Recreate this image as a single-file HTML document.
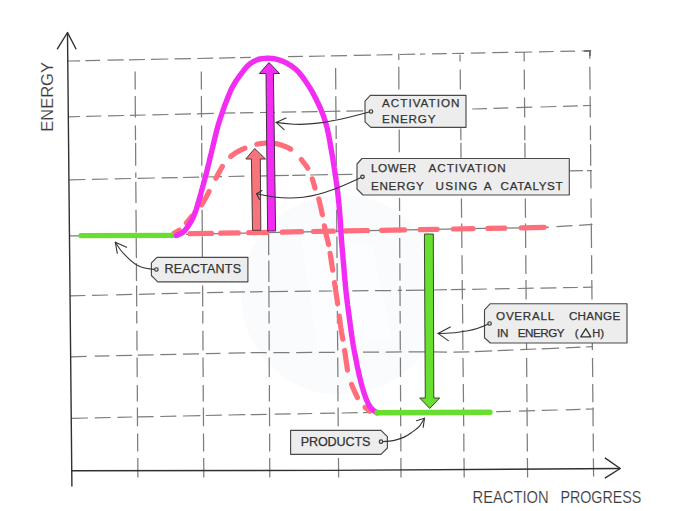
<!DOCTYPE html>
<html><head><meta charset="utf-8"><title>Energy profile</title>
<style>
html,body{margin:0;padding:0;background:#fff;}
body{width:673px;height:511px;overflow:hidden;font-family:"Liberation Sans",sans-serif;}
svg{display:block}
.gl{stroke:#7d7d7d;stroke-width:1.25;fill:none;}
.ax{stroke:#303030;stroke-width:1.4;fill:none;stroke-linecap:round;stroke-linejoin:round}
.lb{fill:#ededed;stroke:#4a4a4a;stroke-width:1.15;stroke-linejoin:round}
.ptr{stroke:#333;stroke-width:1.1;fill:none;stroke-linecap:round;stroke-linejoin:round}
.dot{fill:#e0e0e0;stroke:#3a3a3a;stroke-width:1.2}
.pk{fill:none;stroke:#ff6e7a;stroke-width:5.2;stroke-linecap:round;stroke-linejoin:round}
.mg{fill:none;stroke:#f32cf3;stroke-width:5.4;stroke-linecap:round;stroke-linejoin:round}
.gr{fill:none;stroke:#68df2f;stroke-width:5.4;stroke-linecap:round}
text{font-family:"Liberation Sans",sans-serif;fill:#333;}
.t12{font-size:11.7px;stroke:#333;stroke-width:0.25px}
.t16{font-size:16.5px;fill:#3a3a3a;stroke:#fff;stroke-width:0.15px}
</style></head>
<body>
<svg width="673" height="511" viewBox="0 0 673 511">
<rect width="673" height="511" fill="#ffffff"/>
<circle cx="341" cy="295" r="100" fill="#fafbfc"/>
<path d="M300 232 L372 246 L392 338 L318 352 Z" fill="#fcfdfe"/>
<!-- grid -->
<path d="M68.0 61.0 L80.1 60.8 M85.4 60.7 L100.1 60.4 M107.6 60.2 L123.7 59.9 M129.0 59.8 L145.0 59.5 M150.9 59.4 L168.3 59.0 M174.5 58.9 L191.0 58.6 M197.2 58.5 L213.2 58.2 M219.1 58.1 L235.2 57.7 M240.0 57.6 L250.7 57.4 M257.0 57.3 L272.0 57.0 M288.1 56.7 L302.9 56.4 M309.0 56.3 L325.0 56.0 M330.9 55.9 L347.0 55.6 M353.7 55.4 L371.0 55.1 M376.4 55.0 L392.4 54.7 M399.9 54.5 L415.2 54.2 M420.0 54.1 L425.3 54.0 M432.0 53.9 L446.7 53.6 M452.1 53.5 L464.1 53.3 M470.8 53.2 L485.5 52.9 M492.2 52.7 L508.3 52.4 M514.9 52.3 L532.3 52.0 M539.0 51.8 L553.7 51.5 M560.4 51.4 L575.1 51.1 M581.8 51.0 L591.2 50.8" class="gl"/>
<path d="M68.5 116.8 L80.1 116.5 M86.2 116.4 L101.5 116.0 M108.1 115.9 L124.2 115.5 M130.1 115.4 L145.6 115.0 M152.3 114.8 L168.3 114.5 M175.0 114.3 L191.0 113.9 M196.9 113.8 L213.8 113.4 M220.5 113.2 L235.2 112.9 M240.0 112.8 L253.4 112.6 M260.0 112.5 L275.0 112.3 M281.5 112.2 L296.2 111.9 M301.5 111.8 L317.6 111.6 M324.2 111.5 L340.3 111.2 M346.4 111.1 L363.0 110.8 M472.2 109.0 L486.9 108.6 M493.5 108.4 L508.3 107.9 M516.3 107.7 L532.3 107.2 M540.4 107.0 L556.4 106.5 M563.1 106.3 L577.8 105.9 M583.1 105.7 L591.2 105.5" class="gl"/>
<path d="M69.2 179.8 L85.4 179.5 M92.1 179.3 L108.1 179.0 M114.8 178.9 L130.9 178.5 M137.6 178.4 L154.9 178.0 M161.6 177.9 L177.7 177.6 M183.0 177.5 L199.1 177.1 M205.8 177.0 L222.0 176.7 M228.5 176.5 L244.5 176.2 M251.0 176.1 L267.0 175.8 M273.4 175.7 L288.9 175.4 M292.3 175.4 L305.6 175.1 M310.1 175.0 L327.9 174.7 M332.4 174.6 L352.4 174.3 M569.3 170.9 L583.0 170.7 M587.0 170.7 L592.0 170.6" class="gl"/>
<path d="M69.5 235.8 L80.0 235.8 M186.0 234.3 L549.0 227.2 M556.4 226.7 L572.4 225.7 M579.1 225.3 L592.5 224.4" class="gl"/>
<path d="M70.2 295.9 L85.4 295.5 M92.1 295.4 L108.1 295.0 M116.2 294.8 L132.2 294.4 M138.9 294.3 L154.9 293.9 M161.6 293.7 L177.7 293.4 M184.4 293.2 L200.4 292.8 M207.1 292.7 L223.1 292.3 M229.8 292.1 L245.0 291.9 M250.0 291.8 L262.7 291.7 M269.4 291.6 L288.1 291.4 M294.8 291.4 L310.9 291.2 M318.9 291.2 L332.3 291.0 M352.3 290.8 L368.4 290.7 M375.0 290.6 L391.1 290.5 M397.8 290.4 L402.0 290.4 M405.8 290.3 L425.3 290.1 M433.4 290.0 L447.0 289.7 M450.8 289.7 L465.5 289.4 M472.2 289.3 L486.9 289.0 M494.9 288.9 L509.6 288.6 M517.6 288.5 L533.7 288.2 M540.4 288.1 L556.4 287.8 M563.1 287.7 L577.8 287.5 M583.1 287.4 L592.5 287.2" class="gl"/>
<path d="M70.7 356.8 L86.7 356.4 M94.8 356.2 L109.5 355.9 M116.2 355.7 L132.2 355.3 M137.6 355.2 L153.6 354.8 M160.3 354.7 L176.3 354.3 M183.0 354.1 L199.1 353.8 M205.8 353.6 L220.5 353.3 M228.5 353.1 L245.3 352.8 M250.7 352.7 L266.7 352.7 M273.4 352.6 L289.5 352.5 M296.2 352.5 L312.2 352.4 M318.9 352.4 L334.9 352.3 M363.0 352.1 L379.1 352.0 M385.8 352.0 L401.8 351.9 M408.5 351.9 L425.3 351.9 M433.4 351.9 L447.0 352.1 M453.4 352.1 L469.5 351.8 M474.8 351.6 L492.2 350.9 M497.6 350.6 L513.6 350.0 M520.3 349.7 L536.3 349.0 M541.7 348.8 L559.1 348.1 M565.8 347.8 L580.5 347.2 M585.8 347.0 L592.5 346.7" class="gl"/>
<path d="M71.3 418.3 L88.0 418.0 M94.8 417.8 L110.8 417.5 M117.5 417.3 L132.2 417.0 M137.6 416.9 L153.6 416.6 M160.3 416.5 L176.3 416.1 M183.0 416.0 L200.4 415.6 M205.8 415.5 L221.8 415.2 M228.5 415.0 L245.3 414.7 M250.7 414.6 L266.7 414.3 M274.8 414.2 L290.8 413.9 M297.5 413.8 L312.2 413.5 M320.2 413.4 L334.9 413.1 M341.6 413.0 L357.7 412.7 M363.0 412.6 L372.0 412.5 M496.2 411.7 L510.9 411.3 M519.0 411.1 L535.0 410.6 M541.7 410.4 L557.7 410.0 M565.8 409.8 L580.5 409.4 M585.8 409.2 L593.8 409.0" class="gl"/>
<path d="M135.1 71.6 L135.2 89.5 M135.2 96.0 L135.4 117.6 M135.4 125.6 L135.5 140.3 M135.6 143.0 L135.7 165.7 M135.8 172.4 L135.8 177.7 M135.8 181.7 L136.0 203.1 M136.0 209.8 L136.2 232.5 M136.2 236.5 L136.4 257.9 M136.4 263.3 L136.5 281.0 M136.6 285.5 L136.7 306.5 M136.7 311.0 L136.8 323.4 M136.9 330.8 L137.0 350.5 M137.1 357.5 L137.2 376.9 M137.3 384.9 L137.4 401.5 M137.4 407.6 L137.5 426.3 M137.6 433.5 L137.7 451.5 M137.8 458.1 L137.9 477.6" class="gl"/>
<path d="M201.3 71.6 L201.4 89.5 M201.4 96.0 L201.5 117.6 M201.6 125.6 L201.7 140.3 M201.7 143.0 L201.8 165.7 M201.9 172.4 L201.9 177.7 M201.9 181.7 L202.1 203.1 M202.1 209.8 L202.3 232.5 M202.3 236.5 L202.4 257.9 M202.5 263.3 L202.6 281.0 M202.6 285.5 L202.7 306.5 M202.8 311.0 L202.8 323.4 M202.9 330.8 L203.0 350.5 M203.0 357.5 L203.2 376.9 M203.2 384.9 L203.3 401.5 M203.4 407.6 L203.5 426.3 M203.5 433.5 L203.6 451.5 M203.7 458.1 L203.8 477.6" class="gl"/>
<path d="M268.6 231.2 L268.7 255.2 M268.8 260.6 L268.9 282.0 M268.9 286.0 L269.0 307.4 M269.0 311.0 L269.1 323.4 M269.1 330.8 L269.2 350.5 M269.2 357.5 L269.3 376.9 M269.4 384.9 L269.4 401.5 M269.5 407.6 L269.6 426.3 M269.6 433.5 L269.7 451.5 M269.7 458.1 L269.8 477.6" class="gl"/>
<path d="M335.6 68.1 L335.8 89.5 M335.8 96.2 L336.0 118.9 M336.1 125.6 L336.2 139.0 M336.2 143.0 L336.3 165.7 M336.4 172.4 L336.4 177.7 M336.5 181.7 L336.6 203.1 M336.7 209.8 L336.8 232.5 M336.9 236.5 L337.0 257.9 M337.1 263.3 L337.2 281.0 M337.2 285.5 L337.4 306.5 M337.4 311.0 L337.5 323.4 M337.5 330.8 L337.7 350.5 M337.7 357.5 L337.9 376.9 M337.9 384.9 L338.0 401.5 M338.1 407.6 L338.2 426.3 M338.3 433.5 L338.4 451.5 M338.5 458.1 L338.6 477.6" class="gl"/>
<path d="M398.8 53.4 L398.8 60.1 M398.8 66.7 L398.9 89.5 M399.2 129.6 L399.3 152.3 M399.5 197.7 L399.6 211.1 M399.6 215.1 L399.7 232.5 M399.7 237.9 L399.8 257.9 M399.9 263.3 L400.0 280.6 M400.0 286.0 L400.1 306.0 M400.1 311.0 L400.2 323.4 M400.2 330.8 L400.3 350.5 M400.4 357.5 L400.5 376.9 M400.5 384.9 L400.6 401.5 M400.6 407.6 L400.7 426.3 M400.8 433.5 L400.9 451.5 M400.9 458.1 L401.0 477.6" class="gl"/>
<path d="M460.0 54.7 L460.1 61.4 M460.2 69.4 L460.4 89.5 M460.8 128.3 L460.9 140.3 M460.9 143.0 L461.0 157.7 M461.4 198.5 L461.6 217.8 M461.7 223.5 L461.9 248.0 M462.0 255.2 L462.2 274.0 M462.2 280.0 L462.4 299.4 M462.5 304.0 L462.7 323.4 M462.7 330.0 L462.9 350.1 M463.0 358.1 L463.2 376.9 M463.3 384.0 L463.5 402.3 M463.5 407.6 L463.7 426.3 M463.8 433.5 L463.9 451.5 M464.0 458.1 L464.2 477.6" class="gl"/>
<path d="M524.1 52.0 L524.2 61.4 M524.3 69.4 L524.4 89.5 M524.5 97.5 L524.7 117.6 M524.7 125.6 L524.8 140.3 M524.9 143.0 L525.0 157.7 M525.3 198.5 L525.5 217.8 M525.5 223.5 L525.7 248.0 M525.8 255.2 L525.9 274.0 M526.0 280.0 L526.1 299.4 M526.2 304.0 L526.3 323.4 M526.4 330.0 L526.6 350.1 M526.6 358.1 L526.8 376.9 M526.8 384.0 L527.0 402.3 M527.0 407.6 L527.2 426.3 M527.2 433.5 L527.4 451.5 M527.4 458.1 L527.6 477.6" class="gl"/>
<path d="M589.7 50.7 L589.8 58.7 M589.8 66.7 L590.1 89.5 M590.1 96.2 L590.3 117.6 M590.4 125.6 L590.5 140.3 M590.6 144.3 L590.7 165.7 M590.8 171.0 L591.0 188.4 M591.0 198.5 L591.2 217.8 M591.3 223.5 L591.5 248.0 M591.6 255.2 L591.7 274.0 M591.8 280.0 L592.0 299.4 M592.0 304.0 L592.2 323.4 M592.2 330.0 L592.4 350.1 M592.5 358.1 L592.7 376.9 M592.7 384.0 L592.9 402.3 M593.0 407.6 L593.1 426.3 M593.2 433.5 L593.4 451.5 M593.4 458.6 L593.6 476.4" class="gl"/>
<path d="M584 50.9 L590 50.7 L590 56" class="gl" style="stroke-width:1.5;stroke:#666"/>
<!-- axes -->
<path class="ax" d="M67.5 33 L71.9 486"/>
<path class="ax" d="M57.4 48.8 L67.5 32.5 L75.9 48.8"/>
<path class="ax" d="M71.8 470.7 L330 470.4 L620 468.5"/>
<path class="ax" d="M605.3 458.1 L620.2 468.5 L605.3 477.9"/>

<!-- catalyst (pink dashed) -->
<path class="pk" d="M190.0 233.7 L211.6 233.4 M220.6 233.2 L238.3 232.9 M248.6 232.7 L266.6 232.4 M282.2 232.1 L301.6 231.7 M313.4 231.5 L333.4 231.2 M345.5 230.9 L367.6 230.5 M381.5 230.3 L404.5 229.9 M420.1 229.6 L437.2 229.3 M453.4 229.0 L472.9 228.6 M487.9 228.4 L504.7 228.1 M521.2 227.8 L544.2 227.3"/>
<path class="pk" d="M174.0 233.3 L174.1 233.2 L174.3 233.1 L174.4 233.0 L174.6 232.9 L174.8 232.8 L175.0 232.7 L175.2 232.6 L175.4 232.5 L175.6 232.4 L175.8 232.3 L176.0 232.2 L176.2 232.1 L176.4 232.0 L176.6 231.9 L176.8 231.7 L177.0 231.6 L177.2 231.5 L177.4 231.4 L177.6 231.3 L177.8 231.1 L178.0 231.0 L178.2 230.9 L178.4 230.7 L178.6 230.6 L178.8 230.5 L179.0 230.3 L179.3 230.2 L179.3 230.2 M186.4 222.9 L186.5 222.8 L186.8 222.5 L187.0 222.2 L187.3 221.9 L187.6 221.5 L187.9 221.2 L188.1 220.8 L188.4 220.5 L188.7 220.1 L189.0 219.8 L189.3 219.4 L189.6 219.0 L189.9 218.6 L190.2 218.3 L190.5 217.9 L190.8 217.5 L191.1 217.2 L191.4 216.8 L191.7 216.4 L192.0 216.0 L192.1 216.0 M201.6 204.9 L202.0 204.3 L202.4 203.6 L202.8 202.9 L203.3 202.1 L203.8 201.3 L204.2 200.5 L204.7 199.6 L205.2 198.8 L205.6 198.0 L206.1 197.1 L206.6 196.3 L207.0 195.4 L207.5 194.6 L207.9 193.8 L208.3 193.0 L208.7 192.3 L209.1 191.5 L209.1 191.5 M215.9 178.2 L216.2 177.7 L216.6 177.0 L216.9 176.3 L217.3 175.5 L217.7 174.8 L218.1 174.0 L218.5 173.3 L219.0 172.5 L219.4 171.7 L219.8 171.0 L220.2 170.2 L220.6 169.5 L221.0 168.8 L221.4 168.1 L221.8 167.4 L222.2 166.7 L222.4 166.4 M230.8 156.4 L230.9 156.3 L231.2 156.0 L231.5 155.8 L231.8 155.5 L232.1 155.3 L232.5 155.0 L232.8 154.8 L233.1 154.5 L233.5 154.3 L233.8 154.1 L234.1 153.8 L234.5 153.6 L234.8 153.4 L235.2 153.1 L235.5 152.9 L235.9 152.7 L236.3 152.4 L236.6 152.2 L237.0 152.0 L237.4 151.8 L237.8 151.6 L238.2 151.3 L238.6 151.1 L239.0 150.9 L239.4 150.7 L239.8 150.5 L240.2 150.3 L240.7 150.1 L241.1 149.9 L241.5 149.7 L242.0 149.5 L242.4 149.3 L242.8 149.1 L243.3 148.9 L243.7 148.7 L244.1 148.5 L244.5 148.3 L244.9 148.2 M256.9 144.2 L257.5 144.1 L258.1 144.0 L258.7 143.9 L259.4 143.8 L260.0 143.7 L260.7 143.6 L261.4 143.5 L262.1 143.4 L262.8 143.3 L263.5 143.3 L264.2 143.2 L264.9 143.1 L265.6 143.1 L266.2 143.0 L266.9 143.0 L267.6 142.9 L267.8 142.9 M275.9 143.6 L276.3 143.7 L276.8 143.8 L277.3 143.9 L277.7 144.0 L278.2 144.2 L278.7 144.3 L279.2 144.4 L279.6 144.6 L280.1 144.7 L280.6 144.8 L281.1 145.0 L281.5 145.1 L282.0 145.3 L282.5 145.5 L282.9 145.6 L283.4 145.8 L283.9 146.0 L284.4 146.1 L284.8 146.3 L285.3 146.5 L285.8 146.7 L286.2 146.9 L286.7 147.1 L287.1 147.3 L287.6 147.5 L288.0 147.7 L288.5 147.9 L288.9 148.1 L289.4 148.3 L289.8 148.6 L290.2 148.8 L290.6 149.0 L290.7 149.1 M301.4 159.6 L301.5 159.7 L301.9 160.2 L302.3 160.7 L302.7 161.3 L303.1 161.8 L303.5 162.3 L303.9 162.9 L304.4 163.4 L304.8 164.0 L305.2 164.5 L305.6 165.1 L306.0 165.6 L306.4 166.2 L306.8 166.7 L307.1 167.2 L307.5 167.8 L307.8 168.2 M312.3 178.9 L312.4 179.4 L312.6 179.8 L312.7 180.4 L312.9 180.9 L313.1 181.4 L313.2 182.0 L313.4 182.5 L313.5 183.1 L313.7 183.6 L313.9 184.2 L314.0 184.7 L314.2 185.3 L314.4 185.8 L314.5 186.4 L314.7 186.9 L314.8 187.4 L315.0 187.9 L315.0 188.1 M318.8 199.0 L319.0 199.5 L319.1 200.3 L319.3 201.1 L319.5 201.9 L319.7 202.8 L319.9 203.6 L320.1 204.5 L320.3 205.4 L320.5 206.4 L320.7 207.3 L320.9 208.2 L321.2 209.2 L321.4 210.1 L321.6 211.0 L321.8 211.9 L321.9 212.8 L322.1 213.7 L322.3 214.5 L322.4 214.7 M324.4 225.8 L324.5 226.1 L324.6 226.7 L324.7 227.3 L324.8 227.9 L324.9 228.5 L325.0 229.1 L325.1 229.8 L325.2 230.4 L325.4 231.0 L325.5 231.6 L325.6 232.2 L325.7 232.8 L325.9 233.4 L326.0 234.0 L326.1 234.5 L326.3 235.1 L326.4 235.6 L326.5 236.2 L326.7 236.7 L326.8 237.2 L326.9 237.7 L327.1 238.3 L327.2 238.8 L327.4 239.4 L327.5 239.9 L327.7 240.5 L327.8 241.1 L327.9 241.7 L328.1 242.3 L328.2 243.0 L328.4 243.7 L328.5 244.4 L328.6 244.5 M330.1 253.3 L330.3 254.1 L330.4 255.1 L330.6 256.2 L330.7 257.2 L330.9 258.3 L331.1 259.4 L331.2 260.5 L331.4 261.6 L331.6 262.8 L331.7 263.9 L331.9 265.1 L332.1 266.3 L332.3 267.4 L332.5 268.6 L332.6 269.9 L332.7 270.1 M334.5 282.5 L334.6 283.2 L334.8 284.7 L335.1 286.2 L335.3 287.7 L335.5 289.1 L335.7 290.6 L335.9 292.1 L336.1 293.6 L336.4 295.0 L336.6 296.5 L336.8 297.9 L337.0 299.3 L337.2 300.7 L337.4 302.0 L337.5 303.3 L337.6 303.6 M339.3 316.1 L339.4 317.1 L339.6 318.2 L339.7 319.2 L339.8 320.2 L340.0 321.2 L340.1 322.2 L340.2 323.1 L340.4 324.0 L340.5 325.0 L340.6 325.8 L340.7 326.7 L340.8 327.6 L341.0 328.4 L341.1 329.2 L341.2 330.0 L341.3 330.7 L341.4 331.4 L341.5 332.0 L341.6 332.6 L341.7 333.2 L341.8 333.7 L341.9 334.1 L342.0 334.6 L342.0 335.0 L342.1 335.4 L342.2 335.8 L342.3 336.2 L342.4 336.6 L342.4 337.0 L342.5 337.4 L342.6 337.9 L342.7 338.4 L342.8 338.9 L342.9 339.2 M344.6 350.5 L344.7 350.9 L344.9 352.3 L345.1 353.6 L345.3 355.0 L345.5 356.4 L345.7 357.8 L345.9 359.2 L346.1 360.6 L346.3 362.0 L346.5 363.4 L346.7 364.7 L346.9 365.9 L347.0 367.2 L347.2 368.3 L347.4 369.4 L347.5 370.1 M351.6 384.4 L351.8 385.0 L352.1 385.7 L352.4 386.4 L352.7 387.2 L353.1 388.0 L353.4 388.8 L353.8 389.6 L354.1 390.4 L354.5 391.2 L354.8 392.0 L355.2 392.8 L355.5 393.6 L355.9 394.3 L356.2 395.1 L356.6 395.8 L356.9 396.5 L357.2 397.2 L357.4 397.5 M365.1 407.3 L365.4 407.6 L365.8 407.9 L366.2 408.3 L366.6 408.6 L367.0 408.9 L367.3 409.2 L367.7 409.5 L368.1 409.9 L368.5 410.2 L368.8 410.5 L369.2 410.7 L369.5 411.0 L369.6 411.1"/>

<!-- main curve -->
<path class="gr" d="M81 235.6 L176.4 235.4"/>
<path class="mg" d="M176.4 235.4 L176.6 235.3 L176.7 235.2 L176.9 235.2 L177.2 235.1 L177.4 235.0 L177.7 234.9 L178.0 234.8 L178.2 234.7 L178.5 234.6 L178.9 234.4 L179.2 234.3 L179.5 234.2 L179.8 234.0 L180.2 233.9 L180.5 233.7 L180.9 233.6 L181.2 233.4 L181.6 233.2 L181.9 233.0 L182.2 232.8 L182.6 232.6 L182.9 232.3 L183.2 232.1 L183.5 231.8 L183.8 231.5 L184.1 231.2 L184.4 230.9 L184.7 230.6 L185.0 230.2 L185.3 229.9 L185.6 229.5 L185.9 229.1 L186.2 228.7 L186.5 228.3 L186.8 227.9 L187.2 227.5 L187.5 227.1 L187.8 226.7 L188.0 226.2 L188.3 225.8 L188.6 225.4 L188.9 224.9 L189.2 224.5 L189.5 224.1 L189.7 223.6 L190.0 223.2 L190.3 222.8 L190.5 222.4 L190.7 222.0 L191.0 221.6 L191.2 221.2 L191.4 220.8 L191.6 220.4 L191.9 220.0 L192.1 219.6 L192.3 219.2 L192.5 218.8 L192.7 218.4 L192.9 218.0 L193.0 217.6 L193.2 217.1 L193.4 216.7 L193.6 216.3 L193.8 215.9 L194.0 215.4 L194.1 215.0 L194.3 214.6 L194.5 214.1 L194.7 213.7 L194.8 213.2 L195.0 212.8 L195.2 212.3 L195.4 211.8 L195.6 211.3 L195.7 210.9 L195.9 210.4 L196.1 209.9 L196.2 209.4 L196.4 208.9 L196.6 208.3 L196.7 207.8 L196.9 207.3 L197.0 206.8 L197.2 206.2 L197.4 205.7 L197.5 205.2 L197.7 204.6 L197.8 204.1 L198.0 203.6 L198.1 203.0 L198.3 202.5 L198.5 201.9 L198.6 201.4 L198.8 200.8 L198.9 200.3 L199.1 199.7 L199.3 199.1 L199.4 198.6 L199.6 198.0 L199.7 197.5 L199.9 196.9 L200.1 196.3 L200.2 195.8 L200.4 195.2 L200.5 194.6 L200.7 194.1 L200.9 193.5 L201.0 192.9 L201.2 192.3 L201.3 191.7 L201.5 191.1 L201.7 190.5 L201.8 189.9 L202.0 189.3 L202.2 188.7 L202.3 188.1 L202.5 187.5 L202.7 186.9 L202.8 186.2 L203.0 185.6 L203.2 185.0 L203.3 184.3 L203.5 183.7 L203.7 183.0 L203.9 182.3 L204.1 181.7 L204.2 181.0 L204.4 180.3 L204.6 179.7 L204.8 179.0 L205.0 178.3 L205.2 177.6 L205.3 176.9 L205.5 176.2 L205.7 175.5 L205.9 174.8 L206.1 174.1 L206.3 173.4 L206.5 172.7 L206.6 171.9 L206.8 171.2 L207.0 170.5 L207.2 169.7 L207.4 169.0 L207.6 168.3 L207.8 167.5 L208.0 166.8 L208.1 166.0 L208.3 165.2 L208.5 164.5 L208.7 163.7 L208.9 163.0 L209.1 162.2 L209.3 161.4 L209.4 160.6 L209.6 159.8 L209.8 159.0 L210.0 158.3 L210.2 157.5 L210.4 156.6 L210.6 155.8 L210.8 155.0 L211.0 154.2 L211.2 153.4 L211.4 152.5 L211.6 151.7 L211.8 150.9 L212.0 150.0 L212.2 149.1 L212.4 148.3 L212.6 147.3 L212.9 146.4 L213.1 145.5 L213.3 144.6 L213.5 143.6 L213.8 142.7 L214.0 141.7 L214.2 140.7 L214.4 139.8 L214.7 138.8 L214.9 137.8 L215.1 136.9 L215.4 135.9 L215.6 135.0 L215.8 134.0 L216.1 133.1 L216.3 132.2 L216.5 131.3 L216.7 130.5 L217.0 129.6 L217.2 128.8 L217.4 128.0 L217.6 127.2 L217.8 126.5 L218.0 125.8 L218.2 125.1 L218.4 124.4 L218.6 123.7 L218.8 123.0 L219.0 122.4 L219.2 121.8 L219.4 121.2 L219.6 120.5 L219.8 119.9 L220.0 119.3 L220.2 118.7 L220.4 118.1 L220.6 117.5 L220.8 116.9 L221.0 116.3 L221.2 115.7 L221.4 115.1 L221.6 114.4 L221.8 113.8 L222.1 113.1 L222.3 112.4 L222.5 111.7 L222.8 111.0 L223.1 110.2 L223.3 109.5 L223.6 108.7 L223.9 108.0 L224.2 107.2 L224.4 106.4 L224.7 105.6 L225.0 104.8 L225.3 104.0 L225.6 103.2 L225.9 102.4 L226.2 101.7 L226.5 100.9 L226.8 100.1 L227.1 99.4 L227.4 98.6 L227.7 97.9 L227.9 97.2 L228.2 96.5 L228.5 95.9 L228.7 95.2 L229.0 94.6 L229.3 94.0 L229.5 93.4 L229.7 92.9 L230.0 92.4 L230.2 91.8 L230.4 91.3 L230.6 90.8 L230.8 90.4 L231.0 89.9 L231.3 89.5 L231.5 89.0 L231.7 88.6 L231.9 88.2 L232.1 87.7 L232.3 87.3 L232.5 86.9 L232.8 86.5 L233.0 86.0 L233.2 85.6 L233.5 85.2 L233.7 84.8 L234.0 84.3 L234.2 83.9 L234.5 83.4 L234.8 82.9 L235.1 82.5 L235.4 82.0 L235.7 81.5 L236.0 81.0 L236.3 80.5 L236.6 80.1 L237.0 79.6 L237.3 79.1 L237.6 78.6 L238.0 78.1 L238.3 77.6 L238.7 77.2 L239.0 76.7 L239.4 76.2 L239.7 75.7 L240.0 75.3 L240.4 74.8 L240.7 74.4 L241.0 74.0 L241.4 73.5 L241.7 73.1 L242.0 72.7 L242.3 72.3 L242.6 71.9 L242.9 71.5 L243.2 71.2 L243.5 70.8 L243.7 70.4 L244.0 70.1 L244.3 69.7 L244.5 69.4 L244.8 69.0 L245.1 68.7 L245.3 68.4 L245.6 68.1 L245.8 67.8 L246.1 67.4 L246.4 67.1 L246.6 66.8 L246.9 66.5 L247.2 66.3 L247.5 66.0 L247.8 65.7 L248.1 65.4 L248.4 65.1 L248.7 64.9 L249.0 64.6 L249.3 64.3 L249.7 64.1 L250.0 63.8 L250.3 63.6 L250.7 63.3 L251.0 63.1 L251.4 62.8 L251.8 62.6 L252.1 62.4 L252.5 62.1 L252.9 61.9 L253.2 61.7 L253.6 61.5 L254.0 61.3 L254.4 61.1 L254.8 60.9 L255.2 60.7 L255.5 60.5 L255.9 60.4 L256.3 60.2 L256.7 60.0 L257.1 59.9 L257.5 59.7 L257.9 59.6 L258.3 59.5 L258.7 59.4 L259.1 59.2 L259.5 59.1 L259.9 59.0 L260.3 59.0 L260.8 58.9 L261.2 58.8 L261.6 58.7 L262.0 58.7 L262.5 58.6 L262.9 58.6 L263.3 58.5 L263.7 58.5 L264.2 58.4 L264.6 58.4 L265.0 58.4 L265.5 58.4 L265.9 58.3 L266.3 58.3 L266.7 58.3 L267.2 58.3 L267.6 58.3 L268.0 58.3 L268.4 58.3 L268.8 58.3 L269.3 58.3 L269.7 58.3 L270.1 58.3 L270.5 58.4 L270.9 58.4 L271.3 58.4 L271.7 58.5 L272.1 58.5 L272.6 58.5 L273.0 58.6 L273.4 58.6 L273.8 58.7 L274.2 58.8 L274.6 58.8 L275.0 58.9 L275.5 59.0 L275.9 59.1 L276.3 59.2 L276.7 59.3 L277.1 59.4 L277.6 59.5 L278.0 59.6 L278.4 59.7 L278.9 59.9 L279.3 60.0 L279.7 60.1 L280.2 60.3 L280.6 60.5 L281.1 60.6 L281.5 60.8 L282.0 61.0 L282.4 61.1 L282.9 61.3 L283.3 61.5 L283.8 61.7 L284.2 61.9 L284.7 62.1 L285.1 62.3 L285.6 62.6 L286.0 62.8 L286.5 63.0 L286.9 63.2 L287.3 63.5 L287.8 63.7 L288.2 64.0 L288.6 64.2 L289.0 64.5 L289.4 64.7 L289.8 65.0 L290.3 65.2 L290.7 65.5 L291.1 65.8 L291.5 66.0 L291.9 66.3 L292.3 66.6 L292.7 66.9 L293.1 67.2 L293.5 67.5 L293.8 67.8 L294.2 68.1 L294.6 68.4 L295.0 68.7 L295.4 69.0 L295.8 69.4 L296.2 69.7 L296.6 70.1 L296.9 70.4 L297.3 70.8 L297.7 71.2 L298.1 71.6 L298.5 72.0 L298.9 72.4 L299.3 72.9 L299.6 73.3 L300.0 73.8 L300.4 74.3 L300.8 74.7 L301.2 75.2 L301.6 75.7 L302.0 76.2 L302.3 76.7 L302.7 77.3 L303.1 77.8 L303.5 78.3 L303.9 78.8 L304.2 79.3 L304.6 79.9 L304.9 80.4 L305.3 80.9 L305.7 81.4 L306.0 81.9 L306.3 82.4 L306.7 82.9 L307.0 83.4 L307.3 83.9 L307.6 84.3 L307.9 84.8 L308.2 85.2 L308.5 85.7 L308.8 86.1 L309.1 86.5 L309.3 86.9 L309.6 87.4 L309.9 87.8 L310.1 88.2 L310.4 88.6 L310.6 89.1 L310.9 89.5 L311.2 89.9 L311.4 90.4 L311.7 90.9 L312.0 91.4 L312.2 91.8 L312.5 92.4 L312.8 92.9 L313.1 93.4 L313.4 94.0 L313.7 94.6 L314.0 95.2 L314.4 95.9 L314.7 96.5 L315.0 97.2 L315.4 97.9 L315.8 98.6 L316.1 99.3 L316.5 100.1 L316.9 100.8 L317.2 101.6 L317.6 102.4 L318.0 103.2 L318.4 103.9 L318.7 104.7 L319.1 105.5 L319.5 106.3 L319.8 107.1 L320.2 107.9 L320.5 108.7 L320.9 109.4 L321.2 110.2 L321.5 110.9 L321.8 111.7 L322.1 112.4 L322.4 113.1 L322.6 113.8 L322.9 114.5 L323.2 115.2 L323.4 115.8 L323.6 116.5 L323.9 117.1 L324.1 117.8 L324.3 118.4 L324.5 119.1 L324.7 119.7 L324.9 120.4 L325.2 121.0 L325.4 121.7 L325.5 122.3 L325.7 123.0 L325.9 123.7 L326.1 124.4 L326.3 125.1 L326.5 125.9 L326.7 126.6 L326.9 127.4 L327.1 128.2 L327.3 129.0 L327.5 129.8 L327.7 130.7 L327.9 131.6 L328.1 132.5 L328.3 133.4 L328.5 134.4 L328.7 135.3 L328.9 136.3 L329.0 137.3 L329.2 138.3 L329.4 139.3 L329.6 140.3 L329.8 141.3 L330.0 142.3 L330.1 143.3 L330.3 144.4 L330.5 145.4 L330.7 146.4 L330.8 147.4 L331.0 148.4 L331.2 149.4 L331.4 150.4 L331.5 151.3 L331.7 152.3 L331.9 153.2 L332.0 154.2 L332.2 155.1 L332.4 156.1 L332.5 157.0 L332.7 157.9 L332.8 158.9 L333.0 159.8 L333.1 160.7 L333.3 161.7 L333.4 162.6 L333.6 163.5 L333.7 164.4 L333.9 165.4 L334.0 166.3 L334.2 167.2 L334.3 168.1 L334.5 169.0 L334.6 170.0 L334.7 170.9 L334.9 171.8 L335.0 172.7 L335.2 173.7 L335.3 174.6 L335.4 175.5 L335.6 176.5 L335.7 177.4 L335.8 178.3 L336.0 179.2 L336.1 180.2 L336.2 181.1 L336.4 182.0 L336.5 183.0 L336.6 183.9 L336.7 184.8 L336.9 185.8 L337.0 186.7 L337.1 187.6 L337.2 188.5 L337.3 189.5 L337.4 190.4 L337.6 191.3 L337.7 192.3 L337.8 193.2 L337.9 194.1 L338.0 195.0 L338.1 196.0 L338.2 196.9 L338.3 197.8 L338.4 198.8 L338.5 199.7 L338.6 200.6 L338.7 201.6 L338.8 202.5 L338.9 203.4 L339.0 204.4 L339.0 205.3 L339.1 206.2 L339.2 207.2 L339.3 208.1 L339.4 209.0 L339.5 209.9 L339.5 210.9 L339.6 211.8 L339.7 212.7 L339.8 213.6 L339.8 214.6 L339.9 215.5 L340.0 216.4 L340.1 217.3 L340.1 218.2 L340.2 219.1 L340.3 220.0 L340.3 220.9 L340.4 221.8 L340.4 222.6 L340.5 223.5 L340.6 224.4 L340.6 225.2 L340.7 226.1 L340.7 226.9 L340.8 227.8 L340.8 228.6 L340.8 229.5 L340.9 230.3 L340.9 231.2 L341.0 232.0 L341.0 232.9 L341.1 233.8 L341.1 234.6 L341.2 235.5 L341.3 236.4 L341.3 237.3 L341.4 238.2 L341.4 239.1 L341.5 240.0 L341.6 240.9 L341.6 241.8 L341.7 242.8 L341.8 243.7 L341.9 244.6 L341.9 245.5 L342.0 246.5 L342.1 247.4 L342.2 248.3 L342.3 249.3 L342.3 250.2 L342.4 251.2 L342.5 252.2 L342.6 253.1 L342.7 254.1 L342.8 255.1 L342.9 256.1 L342.9 257.1 L343.0 258.1 L343.1 259.1 L343.2 260.2 L343.3 261.2 L343.4 262.3 L343.5 263.4 L343.6 264.5 L343.7 265.6 L343.8 266.8 L343.9 267.9 L344.0 269.1 L344.1 270.3 L344.2 271.5 L344.3 272.7 L344.4 274.0 L344.5 275.2 L344.6 276.4 L344.7 277.7 L344.8 278.9 L344.9 280.2 L345.0 281.4 L345.2 282.7 L345.3 283.9 L345.4 285.2 L345.5 286.4 L345.6 287.6 L345.7 288.8 L345.9 290.0 L346.0 291.2 L346.1 292.4 L346.2 293.6 L346.4 294.7 L346.5 295.9 L346.6 297.1 L346.8 298.2 L346.9 299.4 L347.0 300.5 L347.2 301.7 L347.3 302.8 L347.5 304.0 L347.6 305.1 L347.8 306.3 L347.9 307.4 L348.1 308.5 L348.2 309.6 L348.4 310.7 L348.5 311.8 L348.7 312.9 L348.8 314.0 L349.0 315.0 L349.1 316.1 L349.2 317.1 L349.4 318.1 L349.5 319.1 L349.6 320.1 L349.8 321.1 L349.9 322.0 L350.0 323.0 L350.1 324.0 L350.3 324.9 L350.4 325.9 L350.5 326.8 L350.7 327.7 L350.8 328.7 L350.9 329.6 L351.0 330.4 L351.1 331.3 L351.3 332.2 L351.4 333.0 L351.5 333.9 L351.6 334.7 L351.7 335.5 L351.9 336.3 L352.0 337.1 L352.1 337.8 L352.2 338.6 L352.3 339.3 L352.4 340.0 L352.5 340.7 L352.6 341.3 L352.7 341.9 L352.8 342.4 L352.9 343.0 L352.9 343.4 L353.0 343.9 L353.1 344.4 L353.2 344.8 L353.2 345.2 L353.3 345.6 L353.4 346.1 L353.5 346.5 L353.6 346.9 L353.6 347.3 L353.7 347.8 L353.8 348.2 L353.9 348.7 L354.0 349.2 L354.1 349.8 L354.2 350.3 L354.3 351.0 L354.5 351.6 L354.6 352.3 L354.7 353.0 L354.9 353.8 L355.0 354.6 L355.2 355.5 L355.4 356.3 L355.5 357.2 L355.7 358.1 L355.9 359.1 L356.1 360.0 L356.3 361.0 L356.5 362.0 L356.6 363.0 L356.8 364.0 L357.0 365.0 L357.2 366.0 L357.4 367.0 L357.6 368.0 L357.9 369.0 L358.1 369.9 L358.3 370.9 L358.5 371.9 L358.7 372.8 L358.9 373.7 L359.1 374.6 L359.3 375.5 L359.5 376.4 L359.7 377.3 L360.0 378.2 L360.2 379.0 L360.4 379.9 L360.6 380.8 L360.9 381.7 L361.1 382.6 L361.3 383.5 L361.5 384.4 L361.8 385.2 L362.0 386.1 L362.3 386.9 L362.5 387.8 L362.7 388.6 L363.0 389.4 L363.2 390.2 L363.4 391.0 L363.7 391.7 L363.9 392.5 L364.1 393.2 L364.4 393.9 L364.6 394.6 L364.8 395.3 L365.1 395.9 L365.3 396.5 L365.5 397.2 L365.7 397.8 L366.0 398.4 L366.2 398.9 L366.4 399.5 L366.6 400.1 L366.9 400.6 L367.1 401.1 L367.3 401.6 L367.6 402.1 L367.8 402.6 L368.0 403.1 L368.2 403.6 L368.5 404.0 L368.7 404.4 L369.0 404.9 L369.2 405.3 L369.4 405.7 L369.7 406.1 L369.9 406.5 L370.2 406.9 L370.5 407.3 L370.7 407.6 L371.0 408.0 L371.3 408.3 L371.6 408.7 L372.0 409.0 L372.3 409.3 L372.6 409.6 L372.9 409.9 L373.3 410.2 L373.6 410.4 L373.9 410.7 L374.2 410.9 L374.5 411.1 L374.8 411.4 L375.1 411.6 L375.4 411.8 L375.7 412.0 L375.9 412.1 L376.2 412.3 L376.4 412.5 L376.6 412.6 L376.7 412.8 L376.9 412.9"/>
<path class="gr" d="M377 412.8 L490 412.2"/>

<!-- pink arrow -->
<path d="M252.5 230.3 L251.4 159 L245.8 159 L254.7 148.5 L265.5 159 L260.3 159 L260.8 230.3 Z" fill="#f8747d" stroke="#4a3a3a" stroke-width="1"/>
<!-- magenta arrow -->
<path d="M267.6 231 L266 73.5 L259.4 73.5 L269 62.5 L279.6 73.5 L273.4 73.5 L275.6 231 Z" fill="#f32cf3" stroke="#4a2a4a" stroke-width="1"/>
<!-- green arrow -->
<path d="M424.4 234 L433.3 234 L433.8 398 L439.7 398 L429.7 408.4 L419.7 398 L425.3 398 Z" fill="#68df2f" stroke="#3a4a2a" stroke-width="1"/>

<!-- labels -->
<!-- activation energy -->
<path class="lb" d="M370.3 95.3 L466 95.3 L466 127.4 L370.8 127.4 L365 121.8 L365 101.2 Z"/>
<path class="ptr" d="M371 111.5 C 362 114, 355 116, 347 117.8 C 338 119.8, 330 121.5, 320.2 122.9 C 311 124.2, 302 124.6, 293.5 124.2 C 287 123.8, 281 123.2, 276.1 122.4"/>
<path class="ptr" d="M286 118.1 L276.1 122.4 L284.1 129.6"/>
<circle class="dot" cx="371" cy="111.5" r="1.75"/>
<text class="t12" x="382" y="107.4" textLength="77.5" lengthAdjust="spacing">ACTIVATION</text>
<text class="t12" x="382" y="123.4" textLength="53.6" lengthAdjust="spacing">ENERGY</text>

<!-- lower activation -->
<path class="lb" d="M362 158.5 L569.3 158.5 L569.3 195 L363 195 L357 189 L357 164 Z"/>
<path class="ptr" d="M362.5 176.8 C 345 185, 325 194.5, 303 197.3 C 286 199.3, 270 197, 256.6 193.8"/>
<path class="ptr" d="M262 190.5 L256.6 193.8 L259.4 199.5"/>
<circle class="dot" cx="362.5" cy="176.8" r="1.75"/>
<text class="t12" x="370.9" y="172.3" textLength="45.3" lengthAdjust="spacing">LOWER</text>
<text class="t12" x="428.4" y="172.3" textLength="77.4" lengthAdjust="spacing">ACTIVATION</text>
<text class="t12" x="370.9" y="190" textLength="53" lengthAdjust="spacing">ENERGY</text>
<text class="t12" x="435.6" y="190" textLength="41.7" lengthAdjust="spacing">USING</text>
<text class="t12" x="483.8" y="190">A</text>
<text class="t12" x="500.6" y="190" textLength="62" lengthAdjust="spacing">CATALYST</text>

<!-- reactants -->
<path class="lb" d="M156.9 257.3 L247.9 257.3 L247.9 281.8 L157.7 281.8 L151.4 275.5 L151.4 262.9 Z"/>
<path class="ptr" d="M156.4 269.5 C 149 269, 144 268, 140.5 266.7 C 135 264.5, 131 261, 127.9 257.8 C 124 254, 121 251, 119 247.7 L115.3 242.2"/>
<path class="ptr" d="M117.3 253.3 L115.3 242.2 L126.6 247.2"/>
<circle class="dot" cx="156.4" cy="269.5" r="1.75"/>
<text class="t12" style="font-size:12.5px" x="164.5" y="273.2" textLength="76.5" lengthAdjust="spacing">REACTANTS</text>

<!-- products -->
<path class="lb" d="M290.6 430.3 L381 430.3 L387.4 436.6 L387.4 448 L381 454.3 L290.6 454.3 Z"/>
<path class="ptr" d="M381 441.7 C 387 441.5, 392 441, 396.2 439.9 C 402 438.5, 407 436, 411.3 432.8 C 415 430, 418 428, 420.2 425.3 L424.5 418.2"/>
<path class="ptr" d="M416.4 420.7 L424.5 418.2 L423.2 427.3"/>
<circle class="dot" cx="381" cy="441.7" r="1.75"/>
<text class="t12" style="font-size:12.6px" x="300.7" y="446.3" textLength="69.7" lengthAdjust="spacing">PRODUCTS</text>

<!-- overall change -->
<path class="lb" d="M490.3 303.7 L627 303.7 L627 343 L490.3 343 L484.5 337.8 L484.5 309.8 Z"/>
<path class="ptr" d="M489.6 323.5 C 481 327.5, 475 329.5, 468.1 330.8 C 458 332.8, 448 333.6, 438 333.4"/>
<path class="ptr" d="M450.3 326.9 L438 333.4 L448.3 340.6"/>
<circle class="dot" cx="489.6" cy="323.5" r="1.75"/>
<text class="t12" x="496.1" y="320.1" textLength="58.1" lengthAdjust="spacing">OVERALL</text>
<text class="t12" x="568.9" y="320.1" textLength="51.3" lengthAdjust="spacing">CHANGE</text>
<text class="t12" x="497.1" y="337.2" textLength="11.3" lengthAdjust="spacing">IN</text>
<text class="t12" x="517.7" y="337.2" textLength="46.8" lengthAdjust="spacing">ENERGY</text>
<text class="t12" x="574.8" y="337.2">(</text>
<path d="M580.7 336.8 L585.8 328.6 L590.9 336.8 Z" fill="none" stroke="#333" stroke-width="1.25" stroke-linejoin="round"/>
<text class="t12" x="592.2" y="337.2" textLength="8" lengthAdjust="spacingAndGlyphs">H</text>
<text class="t12" x="600.3" y="337.2">)</text>

<!-- axis labels -->
<text class="t16" style="font-size:17px" transform="translate(53.2 131.8) rotate(-90)" textLength="69.8" lengthAdjust="spacingAndGlyphs">ENERGY</text>
<text class="t16" style="font-size:16px" x="472.5" y="502.6" textLength="76.1" lengthAdjust="spacingAndGlyphs">REACTION</text>
<text class="t16" style="font-size:16px" x="560.4" y="502.6" textLength="80.9" lengthAdjust="spacingAndGlyphs">PROGRESS</text>
</svg>
</body></html>
